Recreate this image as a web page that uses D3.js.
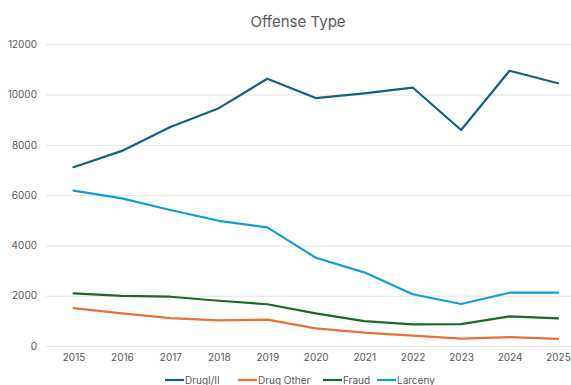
<!DOCTYPE html>
<html><head><meta charset="utf-8">
<script src="https://cdn.jsdelivr.net/npm/d3@7"></script>
<style>
html,body{margin:0;padding:0;background:#fff;}
svg{display:block;font-family:Inter, "Open Sans", Roboto, sans-serif;}
</style></head>
<body><svg id="c" width="571" height="385"></svg>
<script>
const years = ["2015","2016","2017","2018","2019","2020","2021","2022","2023","2024","2025"];
const drugI_II = [7110, 7760, 8710, 9460, 10630, 9860, 10050, 10280, 8590, 10950, 10450];
const drugOther = [1510, 1300, 1110, 1020, 1050, 700, 530, 410, 290, 350, 280];
const fraud = [2090, 1990, 1960, 1800, 1660, 1300, 990, 860, 870, 1180, 1100];
const larceny = [6180, 5870, 5410, 4980, 4720, 3510, 2930, 2060, 1670, 2120, 2120];
const yTicks = [0, 2000, 4000, 6000, 8000, 10000, 12000];
const seriesNames = ["DrugI/II", "Drug Other", "Fraud", "Larceny"];
const seriesColors = ["#156082", "#E97132", "#196B24", "#0F9ED5"];
const title = "Offense Type";

const series = [drugI_II, drugOther, fraud, larceny].map((v,i)=>({name:seriesNames[i], color:seriesColors[i], values:v}));

const svg = d3.select("#c");
const x = d3.scalePoint().domain(years).range([73.5, 558]);
const y = d3.scaleLinear().domain([0, 12000]).range([346, 44.3]);

// title
svg.append("text").attr("x", 298).attr("y", 27).attr("text-anchor","middle")
  .attr("fill","#595959").attr("font-size", 15).text(title);

// gridlines + y axis
const yAxis = d3.axisLeft(y).tickValues(yTicks).tickSize(-525).tickFormat(d3.format("d"));
const gy = svg.append("g").attr("transform","translate(46,0)").call(yAxis);
gy.select(".domain").remove();
gy.selectAll("line").attr("stroke","#e3e3e3").attr("stroke-width",1);
gy.selectAll("text").attr("fill","#595959").attr("font-size",10).attr("x",-9)
  .attr("font-family","Inter, 'Open Sans', sans-serif");

// x axis
const xAxis = d3.axisBottom(x).tickSize(0).tickPadding(8);
const gx = svg.append("g").attr("transform","translate(0,346)").call(xAxis);
gx.select(".domain").remove();
gx.selectAll("text").attr("fill","#595959").attr("font-size",10)
  .attr("font-family","Inter, 'Open Sans', sans-serif");

// lines
const line = d3.line().x((d,i)=>x(years[i])).y(d=>y(d));
svg.append("g").selectAll("path").data(series).join("path")
  .attr("d", d=>line(d.values)).attr("fill","none")
  .attr("stroke", d=>d.color).attr("stroke-width",2.2)
  .attr("stroke-linejoin","round").attr("stroke-linecap","round");

// legend
const legendX = [165, 238, 323, 377];
const lg = svg.append("g").selectAll("g").data(series).join("g")
  .attr("transform",(d,i)=>`translate(${legendX[i]},380)`);
lg.append("line").attr("x1",0).attr("x2",19).attr("y1",0).attr("y2",0)
  .attr("stroke",d=>d.color).attr("stroke-width",2.2);
lg.append("text").attr("x",20).attr("y",0).attr("dy","0.35em")
  .attr("fill","#595959").attr("font-size",10).text(d=>d.name);
</script></body></html>
